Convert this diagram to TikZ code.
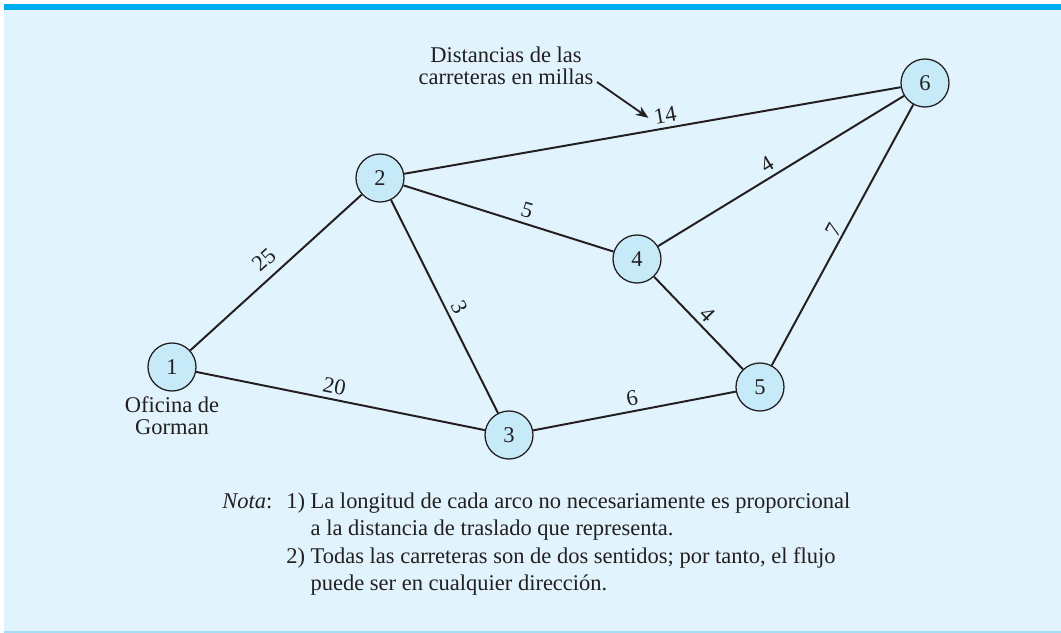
\documentclass[tikz,border=0pt]{standalone}
\usepackage{fontspec}
\setmainfont{Liberation Serif}
\usetikzlibrary{positioning,arrows.meta}
\definecolor{panelbg}{HTML}{E1F3FC}
\definecolor{bandblue}{HTML}{00AEEF}
\definecolor{nodeblue}{HTML}{C7EAF9}
\definecolor{rulelight}{HTML}{A6DDF5}
\definecolor{inkgray}{HTML}{231F20}

\begin{document}
\begin{tikzpicture}[
    font=\fontsize{16}{16}\selectfont, text=inkgray,
    city/.style={circle, draw=inkgray, line width=0.9pt, fill=nodeblue,
      minimum size=1.2cm, inner sep=0pt},
    road/.style={draw=inkgray, line width=1.4pt},
    dist/.style={sloped, above},
    arr/.style={-{Stealth[length=9pt,width=7pt]}, line width=1.3pt, draw=inkgray},
    note/.style={inner sep=0pt, align=left, anchor=base west,
      font=\fontsize{16}{19}\selectfont}
  ]
  \useasboundingbox (0,0) rectangle (26.525,-15.825);
  % panel
  \fill[panelbg] (0.1,-0.25) rectangle (26.525,-15.78);
  \fill[bandblue] (0.1,-0.1) rectangle (26.525,-0.25);
  \fill[rulelight] (0.1,-15.78) rectangle (26.525,-15.825);

  % cities
  \node[city] (n1) at (4.30,-9.175)   {1};
  \node[city] (n2) at (9.50,-4.45)    {2};
  \node[city] (n3) at (12.725,-10.875) {3};
  \node[city] (n4) at (15.925,-6.475) {4};
  \node[city] (n5) at (19.00,-9.675)  {5};
  \node[city] (n6) at (23.125,-2.075) {6};
  \node[below=0pt of n1, align=center] (office) {Oficina de\\Gorman};

  % roads
  \draw[road] (n1) -- node[dist, above=3pt] {25} (n2);
  \draw[road] (n1) -- node[dist, pos=0.47] {20} (n3);
  \draw[road] (n2) -- node[dist, pos=0.53] {3} (n3);
  \draw[road] (n2) -- node[dist, pos=0.57] {5} (n4);
  \draw[road] (n2) -- node[dist, pos=0.53] (d26) {14} (n6);
  \draw[road] (n3) -- node[dist] {6} (n5);
  \draw[road] (n4) -- node[dist] {4} (n5);
  \draw[road] (n4) -- node[dist, pos=0.47] {4} (n6);
  \draw[road] (n5) -- node[dist, inner sep=1pt] {7} (n6);

  % legend
  \node[align=center, anchor=base] (legend) at (12.65,-2.125)
    {Distancias de las\\carreteras en millas};
  \coordinate (legendtip) at (14.925,-2.05);
  \draw[arr] (legendtip) -- (d26.west);

  % notes
  \node[note] (nota) at (5.55,-12.7) {\textit{Nota}:};
  \node[note] (item1) at (7.15,-13.375)
    {1)\ La longitud de cada arco no necesariamente es proporcional\\
     \hphantom{1)\ }a la distancia de traslado que representa.};
  \node[note] (item2) at (7.15,-14.75)
    {2)\ Todas las carreteras son de dos sentidos; por tanto, el flujo\\
     \hphantom{2)\ }puede ser en cualquier dirección.};
\end{tikzpicture}
\end{document}
